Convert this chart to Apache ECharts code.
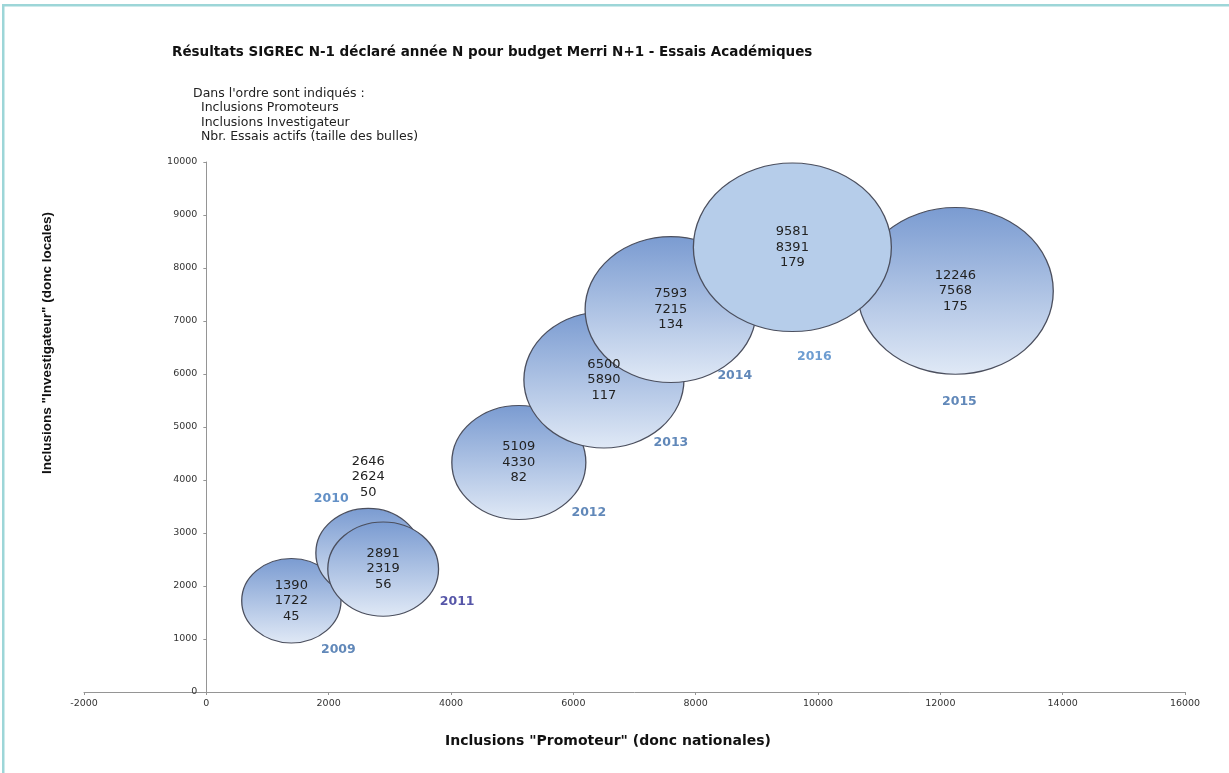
<!DOCTYPE html>
<html>
<head>
<meta charset="utf-8">
<style>
  html, body { margin: 0; padding: 0; background: #fff; }
  #chart { width: 1229px; height: 773px; }
</style>
<script src="https://cdn.jsdelivr.net/npm/echarts@6/dist/echarts.min.js"></script>
</head>
<body>
<div id="chart"></div>
<script>
// data
const years = ["2009", "2010", "2011", "2012", "2013", "2014", "2015", "2016"];
const inclPromoteurs = [1390, 2646, 2891, 5109, 6500, 7593, 12246, 9581];
const inclInvestigateur = [1722, 2624, 2319, 4330, 5890, 7215, 7568, 8391];
const essaisActifs = [45, 50, 56, 82, 117, 134, 175, 179];

const xTicks = { min: -2000, max: 16000, interval: 2000 };
const yTicks = { min: 0, max: 10000, interval: 1000 };

// layout / style, kept apart from the values
const yearLabelOffsets = [[47, 49], [-37, -54], [74, 33], [70, 50], [67, 63], [64, 66], [4, 111], [22, 109]];
const yearColors = ["#3a6aa8", "#3c74b8", "#2c2c92", "#3a6aa8", "#3a6aa8", "#3a6aa8", "#3a6aa8", "#4a84c6"];
const valueLabelOffsets = { "2010": [0, -76] };
const flatFill = { "2016": "#b6cdea" };

const SANS = "'Liberation Sans', Arial, sans-serif";
const WIDE = "'DejaVu Sans', sans-serif";

const GRID = { left: 84, right: 44, top: 162, bottom: 81 };
// the y axis sits on x = 0, so shift it right from the grid's left edge
const plotW = 1229 - GRID.left - GRID.right;
const yAxisShift = (0 - xTicks.min) / (xTicks.max - xTicks.min) * plotW;

const bubbleFill = new echarts.graphic.LinearGradient(0, 0, 0, 1, [
  { offset: 0, color: "#7a9bd1" },
  { offset: 1, color: "#e0e9f6" },
]);

const bubbleData = years.map((y, i) => {
  const item = {
    name: y,
    value: [inclPromoteurs[i], inclInvestigateur[i], essaisActifs[i]],
  };
  if (valueLabelOffsets[y]) item.label = { offset: valueLabelOffsets[y] };
  if (flatFill[y]) item.itemStyle = { color: flatFill[y] };
  return item;
});

const yearData = years.map((y, i) => ({
  name: y,
  value: [inclPromoteurs[i], inclInvestigateur[i]],
  label: { offset: yearLabelOffsets[i], color: yearColors[i] },
}));

const chart = echarts.init(document.getElementById("chart"));
chart.setOption({
  animation: false,
  backgroundColor: "#fff",
  grid: GRID,
  xAxis: {
    type: "value",
    min: xTicks.min,
    max: xTicks.max,
    interval: xTicks.interval,
    splitLine: { show: false },
    axisLine: { onZero: false, lineStyle: { color: "#959595", width: 1 } },
    axisTick: { show: true, length: 3, lineStyle: { color: "#959595" } },
    axisLabel: { color: "#333", fontSize: 9.5, fontFamily: WIDE, margin: 7, formatter: (v) => String(v) },
  },
  yAxis: {
    type: "value",
    min: yTicks.min,
    max: yTicks.max,
    interval: yTicks.interval,
    offset: -yAxisShift,
    splitLine: { show: false },
    axisLine: { show: true, onZero: false, lineStyle: { color: "#959595", width: 1 } },
    axisTick: { show: true, length: 3, lineStyle: { color: "#959595" } },
    axisLabel: { color: "#333", fontSize: 9.5, fontFamily: WIDE, margin: 9, formatter: (v) => String(v) },
  },
  series: [
    {
      type: "scatter",
      data: bubbleData,
      symbol: "circle",
      // bubble area follows the number of active trials
      symbolSize: (v) => [14.8 * Math.sqrt(v[2]), 12.6 * Math.sqrt(v[2])],
      itemStyle: { color: bubbleFill, borderColor: "#4b4f5e", borderWidth: 1.2, opacity: 1 },
      label: {
        show: true,
        position: "inside",
        formatter: (p) => p.value.join("\n"),
        color: "#222",
        fontSize: 13,
        lineHeight: 15.5,
        fontFamily: WIDE,
      },
      emphasis: { disabled: true },
      z: 2,
    },
    {
      type: "scatter",
      data: yearData,
      symbolSize: 0,
      label: {
        show: true,
        position: "inside",
        formatter: (p) => p.name,
        fontSize: 12.5,
        fontWeight: "bold",
        fontFamily: WIDE,
      },
      emphasis: { disabled: true },
      silent: true,
      z: 3,
    },
  ],
  graphic: [
    { type: "rect", shape: { x: 3, y: 4, width: 1226, height: 2.5 }, style: { fill: "#9dd6d8" } },
    { type: "rect", shape: { x: 2, y: 4, width: 2.5, height: 769 }, style: { fill: "#9dd6d8" } },
    {
      type: "text",
      left: 172,
      top: 45,
      style: {
        text: "Résultats SIGREC N-1 déclaré année N pour budget Merri N+1 - Essais Académiques",
        font: "bold 13.5px " + WIDE,
        fill: "#111",
      },
    },
    {
      type: "text",
      left: 193,
      top: 86,
      style: {
        text: "Dans l'ordre sont indiqués :\n  Inclusions Promoteurs\n  Inclusions Investigateur\n  Nbr. Essais actifs (taille des bulles)",
        font: "12.5px " + WIDE,
        lineHeight: 14.5,
        fill: "#222",
      },
    },
    {
      type: "text",
      x: 608,
      y: 741,
      style: {
        text: "Inclusions \"Promoteur\" (donc nationales)",
        font: "bold 14px " + WIDE,
        fill: "#111",
        align: "center",
        verticalAlign: "middle",
      },
    },
    {
      type: "text",
      x: 47,
      y: 343,
      rotation: Math.PI / 2,
      style: {
        text: "Inclusions \"Investigateur\" (donc locales)",
        font: "bold 13.5px " + SANS,
        fill: "#111",
        align: "center",
        verticalAlign: "middle",
      },
    },
  ],
});
</script>
</body>
</html>
